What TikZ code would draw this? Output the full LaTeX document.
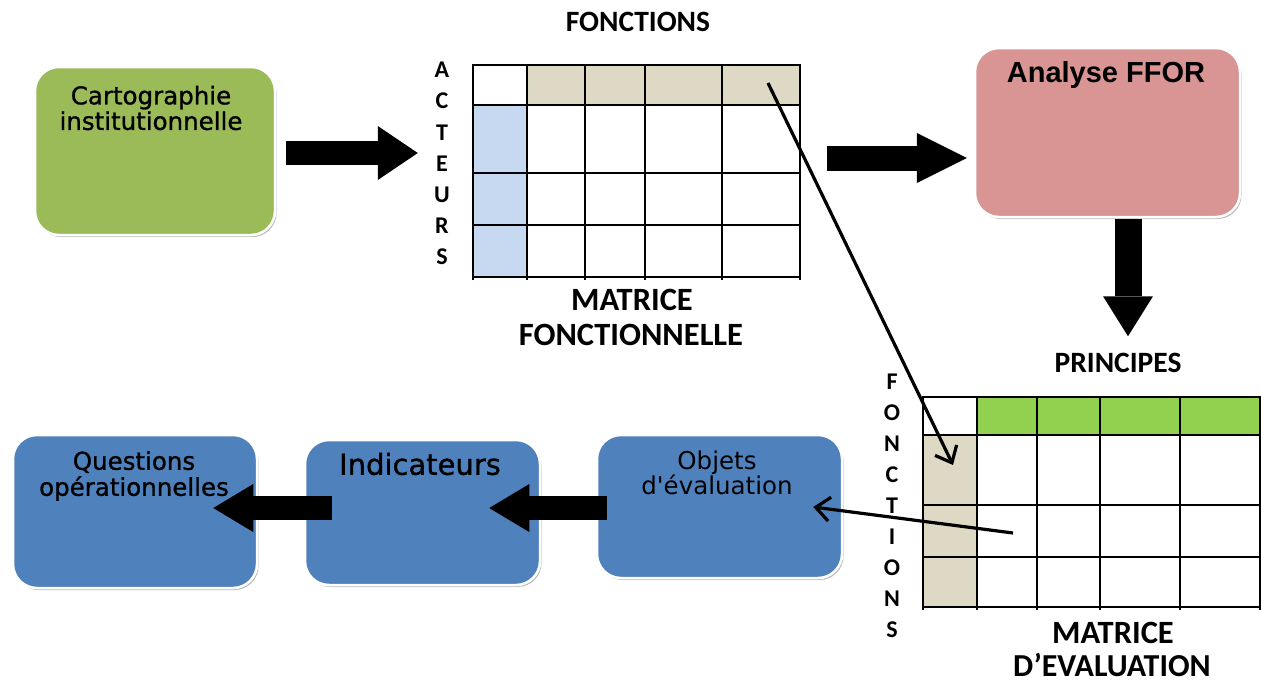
\documentclass[tikz,border=0pt]{standalone}
\usepackage{fontspec}
\setmainfont{DejaVu Sans}
\newfontfamily\carlito{Carlito}
\newfontfamily\dejavu{DejaVu Sans}
\newfontfamily\dejavub[FakeBold=1]{DejaVu Sans}
\newfontfamily\libsans{Liberation Sans}
\usetikzlibrary{arrows.meta,shadows,calc}
\definecolor{cgreen}{HTML}{9BBB59}
\definecolor{cpink}{HTML}{D99594}
\definecolor{cblue}{HTML}{4F81BD}
\definecolor{ctan}{HTML}{DDD9C4}
\definecolor{clblue}{HTML}{C6D9F1}
\definecolor{cbright}{HTML}{92D050}
\begin{document}
\begin{tikzpicture}[x=1pt,y=-1pt,
  box/.style={rectangle, rounded corners=24pt, draw=white, line width=2.5pt, inner sep=0pt,
    drop shadow={shadow xshift=1.5pt,shadow yshift=-2pt,opacity=0.45,fill=black!60}},
  boxtext/.style={inner sep=0pt, align=center, text=black},
  gridline/.style={line width=2pt, line cap=rect},
  barrow/.style={line width=24pt, -{Triangle[length=40pt,width=54pt,line width=0pt 0 0]}},
  tarrow/.style={line width=3.2pt, -{Straight Barb[length=14pt,width=24pt]}},
  mlab/.style={inner sep=0pt, font=\carlito\bfseries\fontsize{32.5}{34}\selectfont},
  hlab/.style={inner sep=0pt, font=\carlito\bfseries\fontsize{29.5}{31}\selectfont},
  vlab/.style={inner sep=0pt, font=\carlito\bfseries\fontsize{24}{26}\selectfont}
]
\useasboundingbox (0,0) rectangle (1261,683);
\fill[white] (0,0) rectangle (1261,683);

% boxes
\node[box, fill=cgreen, minimum width=240pt, minimum height=168pt] (carto) at (155,151) {};
\node[box, fill=cpink, minimum width=265pt, minimum height=169pt] (ffor) at (1107.5,132.5) {};
\node[box, fill=cblue, minimum width=244pt, minimum height=153pt] (quest) at (135,511.5) {};
\node[box, fill=cblue, minimum width=235pt, minimum height=145pt] (indic) at (422.5,512.5) {};
\node[box, fill=cblue, minimum width=245pt, minimum height=143pt] (objets) at (719.5,506.5) {};

\node[boxtext, font=\dejavub\fontsize{24.5}{25.5}\selectfont] (tcarto) at (151,108) {Cartographie\\institutionnelle};
\node[boxtext, font=\libsans\bfseries\fontsize{29}{31}\selectfont] (tffor) at (1106,75) {Analyse FFOR};
\node[boxtext, font=\dejavub\fontsize{24.5}{26}\selectfont] (tquest) at (134,476) {Questions\\opérationnelles};
\node[boxtext, font=\dejavub\fontsize{29}{31}\selectfont] (tindic) at (420,464) {Indicateurs};
\node[boxtext, font=\dejavu\fontsize{24.5}{25.5}\selectfont] (tobjets) at (717,473) {Objets\\d'évaluation};

% matrix 1
\node[inner sep=0pt, minimum width=327pt, minimum height=212pt] (mat1) at (636.5,171) {};
\fill[ctan] (527,65) rectangle (800,105);
\fill[clblue] (473,105) rectangle (527,277);
\foreach \x in {473,527,585,645,722,800} \draw[gridline] (\x,65) -- (\x,279);
\foreach \y in {65,105,173,225,277} \draw[gridline] (473,\y) -- (800,\y);
\node[hlab] (fonc1) at (638,22) {FONCTIONS};
\node[mlab] (mat1a) at (632,300) {MATRICE};
\node[mlab] (mat1b) at (631,335) {FONCTIONNELLE};
\foreach \l [count=\i] in {A,C,T,E,U,R,S}
  \node[vlab] (act\i) at (442,{70+31.17*(\i-1)}) {\l};

% matrix 2
\node[inner sep=0pt, minimum width=337pt, minimum height=210pt] (mat2) at (1091.5,502) {};
\fill[cbright] (977,397) rectangle (1260,435);
\fill[ctan] (923,435) rectangle (977,607);
\foreach \x in {923,977,1037,1100,1180,1260} \draw[gridline] (\x,397) -- (\x,609);
\foreach \y in {397,435,505,557,607} \draw[gridline] (923,\y) -- (1260,\y);
\node[hlab] (princ) at (1118,363) {PRINCIPES};
\node[mlab] (mat2a) at (1113,633) {MATRICE};
\node[mlab, font=\carlito\bfseries\fontsize{32}{33}\selectfont] (mat2b) at (1112,665) {D’EVALUATION};
\foreach \l [count=\i] in {F,O,N,C,T,I,O,N,S}
  \node[vlab] (fct\i) at (892,{382+31*(\i-1)}) {\l};

% block arrows
\draw[barrow] ($(carto.east)+(10,2)$) -- ($(mat1.west)+(-55,-18)$);
\draw[barrow, line width=25pt, -{Triangle[length=50pt,width=50pt,line width=0pt 0 0]}] ($(mat1.east)+(27,-13)$) -- ($(ffor.west)+(-7,25.5)$);
\draw[barrow, line width=27pt, -{Triangle[length=40pt,width=50pt,line width=0pt 0 0]}] ($(ffor.south)+(20.5,1)$) -- ($(ffor.south)+(20.5,118)$);
\draw[barrow, -{Triangle[length=40pt,width=48pt,line width=0pt 0 0]}] ($(indic.west)+(28,-4.5)$) -- ($(quest.east)+(-45,-3.5)$);
\draw[barrow, -{Triangle[length=40pt,width=48pt,line width=0pt 0 0]}] ($(objets.west)+(11,1.5)$) -- ($(indic.east)+(-52,-4.5)$);

% thin arrows
\coordinate (m1cell) at (768,83);
\coordinate (m2cell) at (953,465);
\coordinate (m2cellb) at (1013,533);
\draw[tarrow] (m1cell) -- (m2cell);
\draw[tarrow] (m2cellb) -- ($(objets.east)+(-30,0.5)$);
\end{tikzpicture}
\end{document}
